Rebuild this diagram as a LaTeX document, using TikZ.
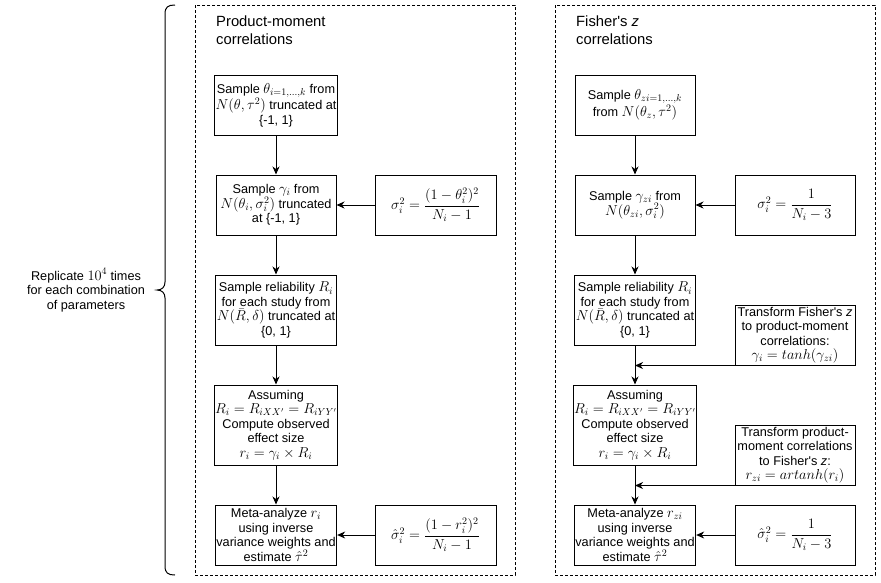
\documentclass[tikz,border=0pt]{standalone}
\usepackage{amsmath}
\usepackage{fontspec}
\setmainfont{Liberation Sans}
\usetikzlibrary{arrows.meta}
% Formulas set a little larger than the surrounding sans text
\DeclareMathSizes{12.7}{14}{10}{7}

\tikzset{
  stepbox/.style={draw, line width=1pt, minimum width=120pt, minimum height=60pt,
    inner sep=1pt, align=center, font=\fontsize{12.7}{14.5}\selectfont},
  mathbox/.style={stepbox, minimum width=121pt},
  panel/.style={draw, line width=0.8pt, dash pattern=on 3pt off 2pt},
  title/.style={anchor=north west, align=left, inner sep=0pt, font=\fontsize{14.8}{18}\selectfont},
  arr/.style={line width=1pt, -{Stealth[length=8pt,width=7pt,inset=2.5pt]}}
}
\newcommand{\apos}{\textquotesingle}

\begin{document}
\begin{tikzpicture}[x=1pt,y=-1pt]
\useasboundingbox (0,0) rectangle (881,582);

% Outer dashed panels
\draw[panel] (195,5) rectangle (515,575);
\draw[panel] (555,5) rectangle (875,575);

% Curly brace spanning both panels
\draw[line width=1pt]
  (175,5) .. controls (168,5) and (165,7) .. (165,14) -- (165,282)
  .. controls (165,287) and (162,290) .. (157,290)
  .. controls (162,290) and (165,293) .. (165,298) -- (165,566)
  .. controls (165,573) and (168,575) .. (175,575);
\node[align=center, font=\fontsize{12.7}{14.5}\selectfont] (rep) at (86,290)
  {Replicate $10^4$ times\\for each combination\\of parameters};

% Panel titles
\node[title] (tl) at (216,16) {Product-moment\\correlations};
\node[title] (tr) at (576,16) {Fisher\apos s \textit{z}\\correlations};

% Left column: product-moment correlations
\node[stepbox] (L1) at (276,105) {Sample $\theta_{i=1,\dots,k}$ from\\$N(\theta,\tau^2)$ truncated at\\\{-1, 1\}};
\node[stepbox] (L2) at (276,205) {Sample $\gamma_i$ from\\$N(\theta_i,\sigma_i^2)$ truncated\\at \{-1, 1\}};
\node[mathbox] (F1) at (435.5,205) {$\sigma_i^2=\dfrac{(1-\theta_i^2)^2}{N_i-1}$};
\node[stepbox, minimum height=70pt] (L3) at (276,310) {Sample reliability $R_i$\\for each study from\\$N(\bar{R},\delta)$ truncated at\\\{0, 1\}};
\node[stepbox, minimum height=80pt] (L4) at (276,425) {Assuming\\$R_i=R_{iXX'}=R_{iYY'}$\\Compute observed\\effect size\\$r_i=\gamma_i\times R_i$};
\node[stepbox] (L5) at (276,535) {Meta-analyze $r_i$\\using inverse\\variance weights and\\estimate $\hat{\tau}^2$};
\node[mathbox] (F2) at (435.5,535) {$\hat{\sigma}_i^2=\dfrac{(1-r_i^2)^2}{N_i-1}$};

\draw[arr] (L1) -- (L2);
\draw[arr] (L2) -- (L3);
\draw[arr] (L3) -- (L4);
\draw[arr] (L4) -- (L5);
\draw[arr] (F1) -- (L2);
\draw[arr] (F2) -- (L5);

% Right column: Fisher's z correlations
\node[stepbox] (R1) at (635,105) {Sample $\theta_{zi=1,\dots,k}$\\from $N(\theta_z,\tau^2)$};
\node[stepbox] (R2) at (635,205) {Sample $\gamma_{zi}$ from\\$N(\theta_{zi},\sigma_i^2)$};
\node[stepbox] (G1) at (795,205) {$\sigma_i^2=\dfrac{1}{N_i-3}$};
\node[stepbox, minimum height=70pt] (R3) at (635,310) {Sample reliability $R_i$\\for each study from\\$N(\bar{R},\delta)$ truncated at\\\{0, 1\}};
\node[stepbox] (T1) at (795,335) {Transform Fisher\apos s \textit{z}\\to product-moment\\correlations:\\$\gamma_i=tanh(\gamma_{zi})$};
\node[stepbox, minimum height=80pt] (R4) at (635,425) {Assuming\\$R_i=R_{iXX'}=R_{iYY'}$\\Compute observed\\effect size\\$r_i=\gamma_i\times R_i$};
\node[stepbox] (T2) at (795,455) {Transform product-\\moment correlations\\to Fisher\apos s \textit{z}:\\$r_{zi}=artanh(r_i)$};
\node[stepbox] (R5) at (635,535) {Meta-analyze $r_{zi}$\\using inverse\\variance weights and\\estimate $\hat{\tau}^2$};
\node[stepbox] (G2) at (795,535) {$\hat{\sigma}_i^2=\dfrac{1}{N_i-3}$};

\draw[arr] (R1) -- (R2);
\draw[arr] (R2) -- (R3);
\draw[arr] (R3) -- (R4);
\draw[arr] (R4) -- (R5);
\draw[arr] (G1) -- (R2);
\draw[arr] (G2) -- (R5);
\draw[arr] (T1.south west) -- (R3.south |- T1.south west);
\draw[arr] (T2.south west) -- (R4.south |- T2.south west);
\end{tikzpicture}
\end{document}
